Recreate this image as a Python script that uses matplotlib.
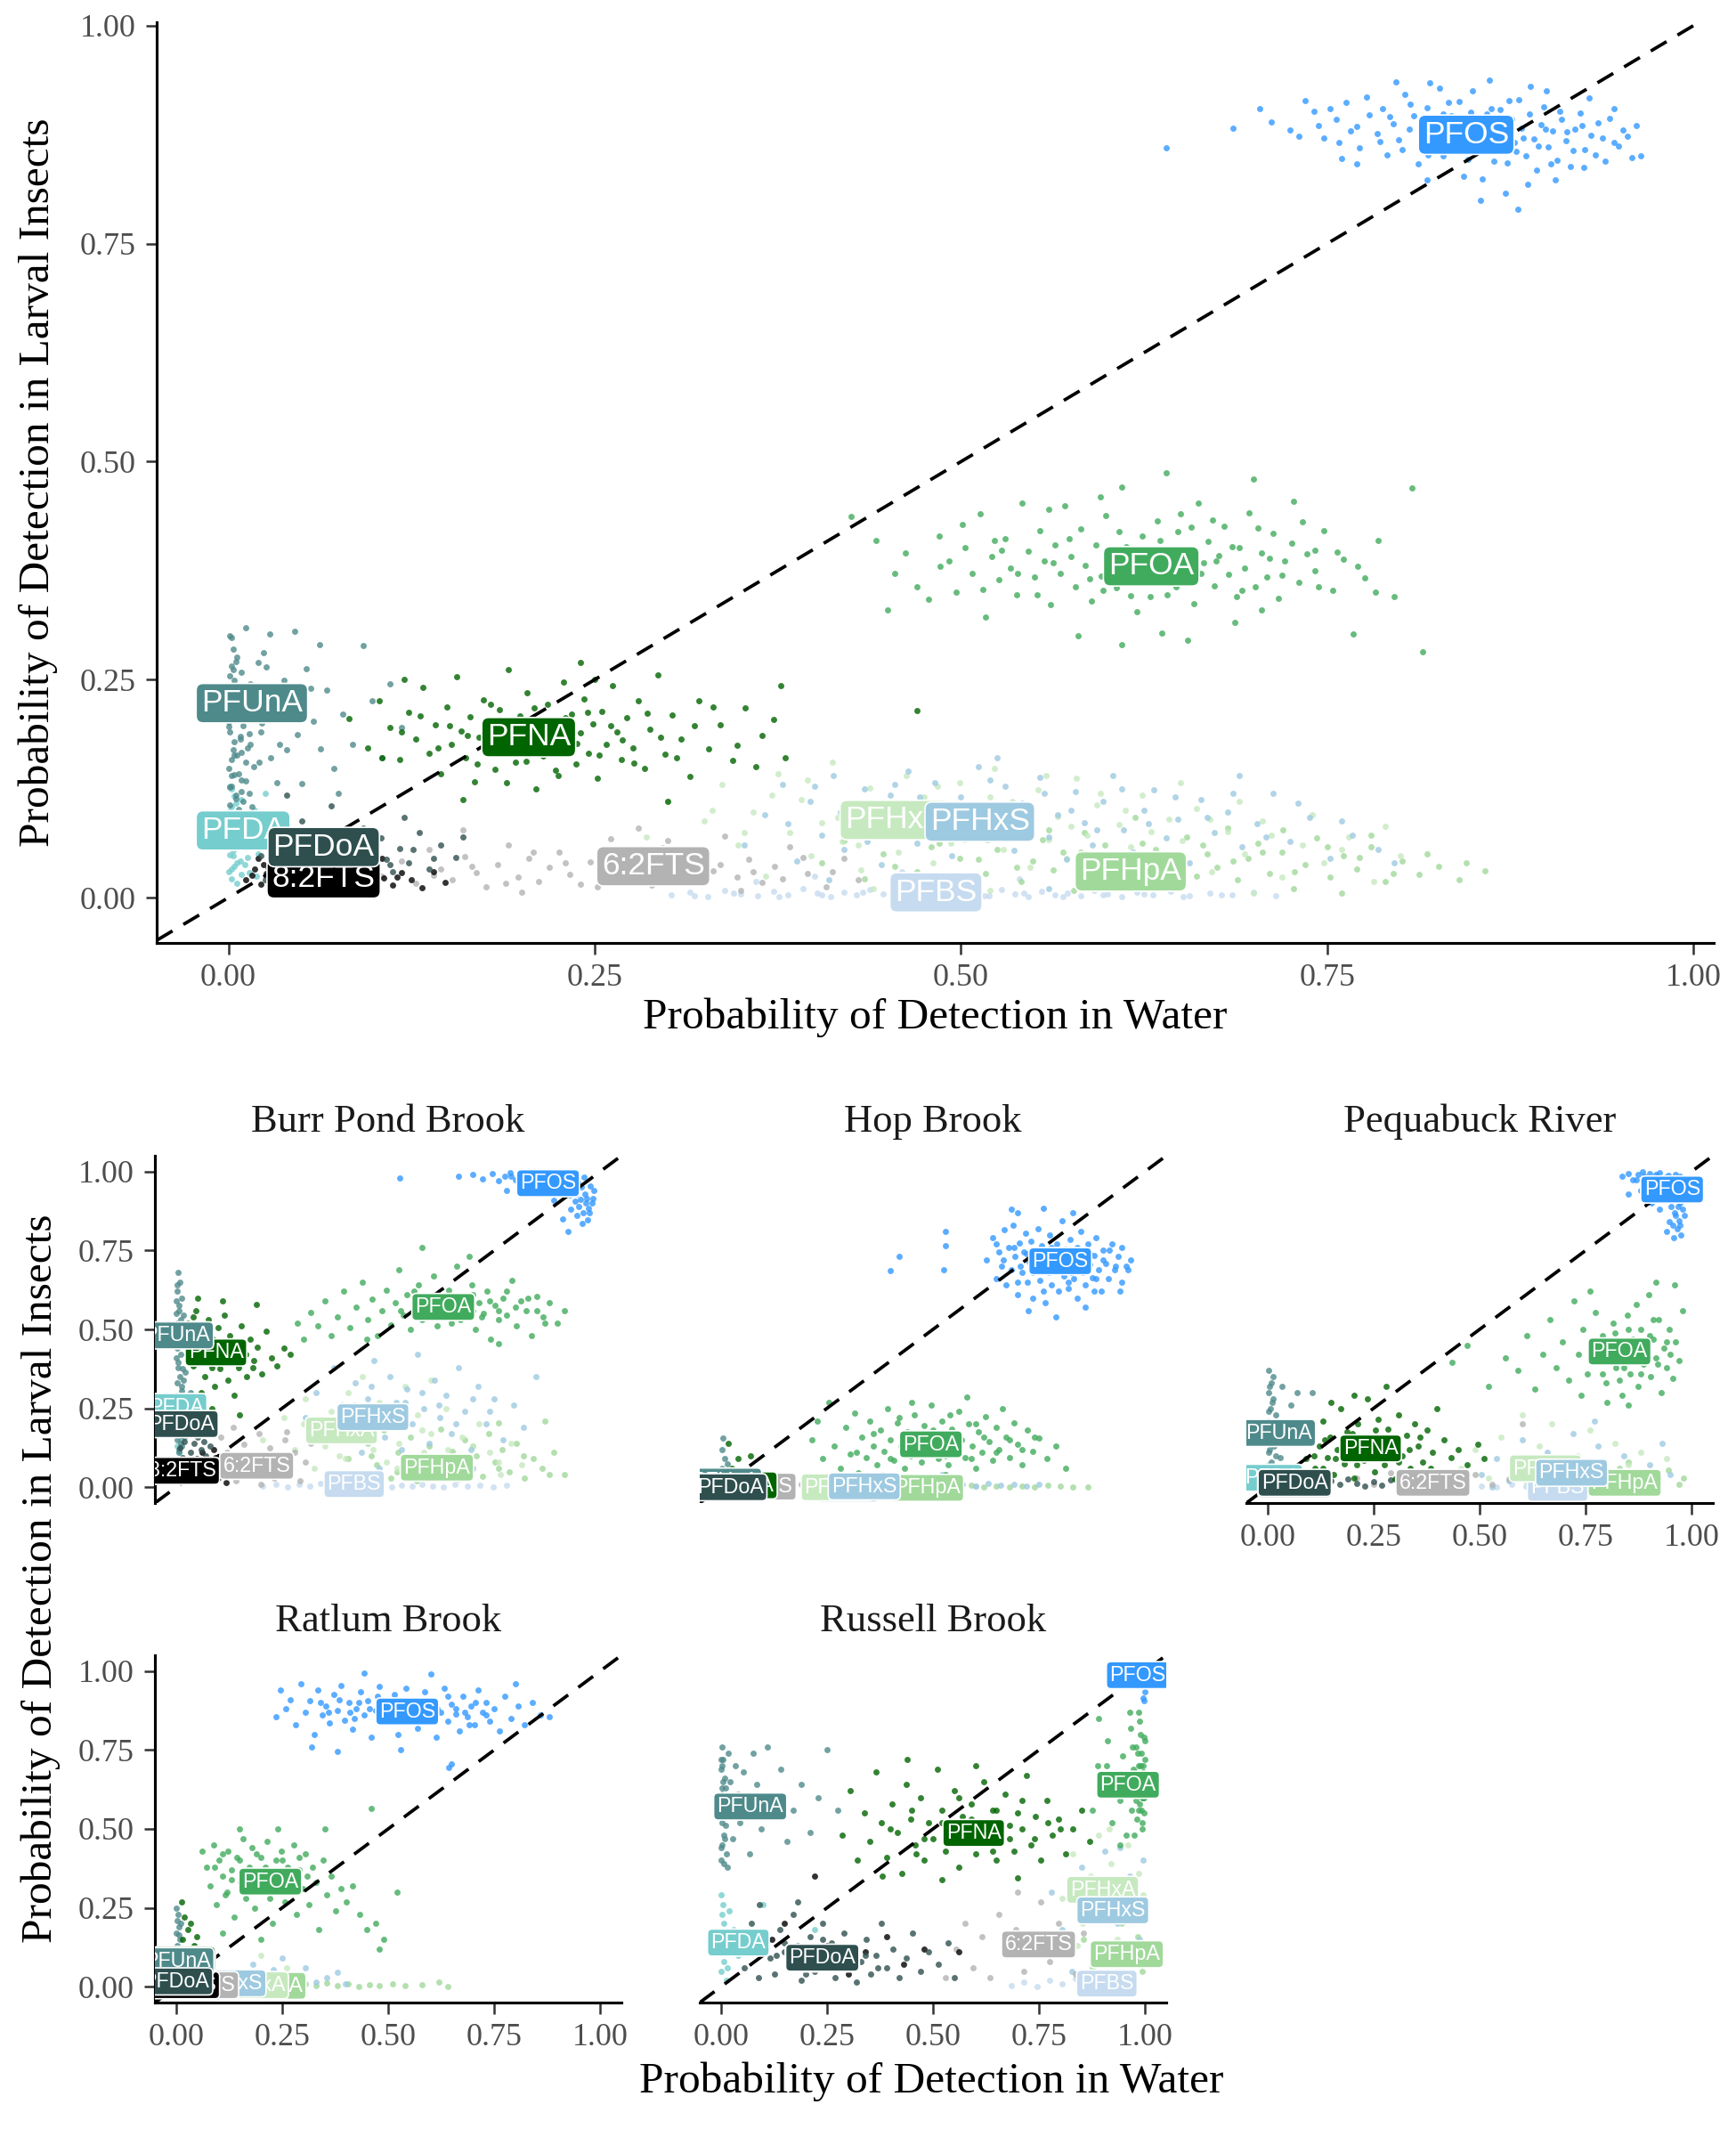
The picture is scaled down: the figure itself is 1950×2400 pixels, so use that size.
import matplotlib
matplotlib.use("Agg")
import matplotlib.pyplot as plt

# ---------------- colours ----------------
compound_names = ["PFOS", "PFOA", "PFNA", "PFUnA", "PFDA", "PFDoA", "8:2FTS",
                  "6:2FTS", "PFHxA", "PFHxS", "PFHpA", "PFBS"]
compound_colors = ["#3399FF", "#41AB5D", "#006400", "#4F8A8B", "#76CDCD", "#2F4F4F",
                   "#000000", "#B3B3B3", "#C7E9C0", "#9ECAE1", "#A1D99B", "#C6DBEF"]
point_order = ["PFBS", "PFHpA", "PFHxA", "PFHxS", "6:2FTS", "PFOA", "PFOS", "PFDA",
               "PFUnA", "8:2FTS", "PFDoA", "PFNA"]
label_order = ["PFOS", "PFOA", "PFBS", "PFHpA", "PFHxA", "PFHxS", "6:2FTS", "PFDA",
               "8:2FTS", "PFNA", "PFUnA", "PFDoA"]
tick_values = [0.0, 0.25, 0.5, 0.75, 1.0]
tick_labels = ["0.00", "0.25", "0.50", "0.75", "1.00"]

# ------------- data (per-mille: water, larval insects) -------------
# ===== overall panel =====
main_pfos = [(712,890),(725,880),(741,902),(748,871),(756,893),(763,912),(770,884),(772,860),(779,898),(784,876),(788,905),(791,852),(795,888),(799,869),(803,921),(806,881),(809,897),(812,842),(815,874),(818,906),(821,862),(824,889),(827,928),(829,851),(832,878),(835,897),(838,866),(840,913),(843,884),(846,847),(848,901),(851,872),(853,890),(856,824),(858,862),(861,938),(863,880),(866,857),(868,904),(871,873),(873,843),(876,893),(878,866),(881,915),(883,882),(886,851),(888,899),(891,870),(893,834),(896,887),(898,907),(901,861),(904,879),(907,846),(910,893),(913,868),(916,839),(919,881),(923,900),(926,858),(930,874),(935,889),(940,845),(946,866),(952,880),(958,849),(964,851),(735,914),(760,848),(855,800),(880,790),(900,925),(820,935),(640,860),(686,882),(704,905),
             (731,873),(744,886),(758,866),(766,879),(777,918),(786,867),(793,896),(801,858),(807,910),(814,884),(819,852),(826,873),(833,912),(837,885),(844,866),(849,925),(854,880),(859,899),(864,845),(869,888),(874,914),(879,856),(884,871),(889,930),(894,862),(899,881),(903,842),(909,902),(914,878),(918,857),(924,886),(929,917),(933,852),(938,871),(943,894),(949,862),(955,873),(961,886),(818,823),(843,827),(887,818),(872,808),(797,936),(752,905),(770,842),(925,838),(906,823),(946,905),(862,905),(829,899)]
main_pfoa = [(425,437),(442,410),(455,372),(462,395),(470,357),(478,342),(485,415),(492,386),(497,350),(503,401),(508,372),(513,440),(517,322),(521,391),(526,365),(530,412),(534,378),(538,347),(542,452),(546,397),(550,368),(554,421),(557,386),(561,336),(564,405),(568,372),(571,449),(575,391),(578,357),(582,423),(585,381),(589,340),(592,404),(596,369),(599,438),(603,390),(606,355),(610,471),(613,402),(617,377),(620,328),(624,415),(627,388),(631,362),(634,432),(638,396),(641,347),(645,381),(648,420),(652,366),(655,398),(659,337),(662,453),(666,384),(669,409),(673,358),(676,392),(680,426),(683,371),(687,316),(690,401),(694,378),(697,441),(701,356),(705,395),(709,368),(713,418),(717,343),(721,386),(726,407),(731,362),(736,394),(742,375),(748,421),(754,352),(761,388),(768,302),(776,367),(785,410),(796,345),(808,470),(815,282),(450,330),(580,300),(640,487),(700,480),(610,290),(655,295),(727,455),
             (486,380),(501,428),(515,353),(528,398),(539,372),(552,347),(563,384),(574,412),(588,366),(597,352),(608,420),(618,398),(629,345),(636,410),(647,357),(657,425),(664,372),(674,386),(685,402),(692,352),(703,424),(711,389),(719,370),(733,431),(744,357),(757,396),(771,380),(783,350),(637,303),(595,460),(672,433),(560,445),(523,410),(705,330),(742,398),(616,346),(688,345),(650,440)]
main_pfna = [(82,205),(95,172),(103,226),(110,195),(117,158),(123,213),(128,182),(133,241),(137,166),(141,198),(145,142),(149,219),(152,176),(156,253),(159,191),(162,160),(165,207),(168,133),(171,184),(174,227),(177,168),(180,199),(182,147),(185,216),(188,178),(191,262),(193,192),(196,155),(199,208),(201,170),(204,235),(207,186),(210,125),(212,201),(215,162),(218,222),(220,180),(223,146),(226,195),(229,247),(231,171),(234,210),(237,153),(240,189),(243,228),(246,166),(249,199),(252,137),(255,214),(258,176),(262,243),(265,190),(268,158),(272,206),(276,172),(280,226),(284,148),(288,193),(293,255),(298,165),(303,209),(309,182),(315,139),(321,226),(328,171),(336,198),(344,157),(353,218),(364,186),(377,243),(380,160),(120,250),(240,270),(300,110),(470,215),(160,112),
             (105,160),(118,190),(131,208),(143,172),(151,197),(163,186),(170,153),(179,222),(187,201),(194,174),(203,156),(209,218),(216,189),(224,169),(230,206),(238,177),(245,212),(253,163),(261,197),(269,181),(277,154),(286,211),(295,184),(306,160),(318,197),(331,219),(347,175),(360,150),(372,204),(190,132),(250,250),(225,140)]
main_pfuna = [(2,298),(5,271),(1,254),(8,240),(3,228),(11,219),(6,206),(0,196),(14,188),(4,179),(9,167),(2,158),(17,150),(7,142),(12,134),(1,127),(5,118),(10,110),(3,262),(15,245),(6,233),(19,214),(0,201),(8,185),(13,172),(4,163),(21,155),(2,140),(9,122),(16,104),(24,281),(27,236),(31,204),(35,176),(22,190),(29,160),(38,249),(42,218),(47,187),(53,263),(58,202),(63,171),(67,238),(72,148),(78,210),(85,176),(92,289),(98,226),(105,160),(118,195),(28,302),(45,305),(50,131),(75,120),(110,245),(33,132),(12,310),(20,270),
              (1,300),(3,285),(6,276),(2,266),(9,258),(4,249),(11,242),(0,236),(7,226),(13,218),(2,211),(5,204),(10,197),(1,190),(8,182),(15,176),(3,170),(6,163),(12,155),(0,148),(4,141),(9,135),(2,128),(14,120),(5,113),(1,106),(7,101),(18,230),(23,200),(26,265),(34,220),(40,170),(56,240),(62,290)]
main_pfda = [(1,128),(4,117),(2,104),(7,96),(0,88),(10,80),(3,72),(6,64),(12,57),(1,49),(8,42),(4,36),(14,29),(2,22),(9,112),(5,91),(16,70),(3,54),(11,38),(0,30),(18,100),(7,82),(22,61),(13,46),(25,120),(30,75),(35,95),(40,52),(6,16),(19,25),
             (2,125),(5,108),(1,99),(8,86),(4,75),(0,66),(10,58),(3,48),(6,40),(2,33),(9,27),(15,90),(20,50),(28,40)]
main_pfdoa = [(22,48),(27,35),(31,62),(35,27),(38,51),(42,41),(45,70),(48,31),(51,55),(54,22),(57,44),(60,36),(63,66),(66,28),(69,50),(72,39),(75,58),(78,25),(81,46),(84,33),(87,61),(90,42),(93,29),(96,52),(100,37),(104,69),(108,44),(112,30),(117,56),(123,40),(130,75),(137,33),(145,60),(155,46),(30,95),(50,88),(70,105),(92,80),(120,92),(40,118),(160,70),(25,20),(65,15),
              (33,40),(44,28),(56,52),(61,30),(68,42),(76,50),(83,24),(91,56),(98,45),(110,38),(126,55),(140,45),(47,62),(73,66)]
main_82fts = [(12,20),(18,33),(22,15),(26,28),(30,41),(34,18),(38,26),(42,36),(46,12),(50,22),(54,31),(58,17),(62,40),(66,25),(70,13),(74,30),(78,21),(82,38),(86,15),(90,27),(95,19),(100,34),(106,23),(112,14),(118,29),(125,20),(132,11),(20,45),(55,48),(80,8),(105,45),(140,30),(148,17),
              (16,26),(28,12),(40,30),(48,38),(60,26),(72,20),(88,32),(98,12),(115,24),(24,38)]
main_62fts = [(105,25),(118,42),(128,16),(137,55),(145,33),(153,21),(161,47),(169,29),(176,12),(184,38),(191,60),(198,24),(205,45),(212,18),(219,35),(226,52),(233,27),(240,15),(247,41),(254,30),(261,67),(268,22),(275,48),(282,33),(289,14),(296,57),(303,26),(310,40),(317,19),(324,50),(331,31),(339,71),(347,24),(355,44),(364,17),(373,36),(383,58),(395,28),(408,12),(420,45),(160,78),(280,80),(200,6),(350,8),
              (140,26),(166,36),(189,16),(208,52),(230,40),(252,12),(271,36),(293,42),(313,29),(336,38),(358,30),(378,22),(392,46),(412,30),(430,20),(300,65)]
main_pfhxa = [(285,70),(300,110),(312,45),(325,88),(337,130),(348,60),(358,98),(367,25),(375,142),(383,75),(391,112),(398,48),(405,86),(412,155),(419,64),(425,103),(432,32),(438,126),(445,78),(451,95),(457,52),(463,140),(469,70),(475,115),(481,40),(487,88),(493,62),(499,132),(505,20),(511,98),(517,74),(523,148),(529,55),(535,110),(541,82),(547,35),(553,124),(560,66),(566,93),(572,45),(579,137),(586,72),(593,106),(600,28),(608,84),(616,58),(624,118),(633,40),(642,90),(651,65),(661,102),(671,30),(682,76),(694,50),(706,88),(719,24),(733,60),(748,40),(765,70),(782,18),(800,48),(440,10),(520,8),(620,12),(700,5),
              (330,100),(352,75),(371,118),(395,135),(416,92),(430,60),(448,108),(466,85),(484,128),(502,66),(520,115),(538,95),(558,140),(575,82),(595,120),(612,100),(630,76),(650,132),(670,90),(690,110),(712,72),(740,95),(760,55),(790,82)]
main_pfhxs = [(352,60),(366,95),(378,130),(388,42),(397,110),(405,72),(413,140),(420,55),(427,100),(434,125),(440,80),(446,38),(452,118),(458,90),(464,145),(470,62),(476,105),(482,132),(488,75),(494,48),(500,115),(506,88),(512,150),(518,66),(524,99),(530,128),(536,54),(542,108),(548,82),(554,138),(560,70),(566,95),(572,44),(578,122),(584,86),(590,60),(597,110),(604,140),(611,78),(618,52),(625,100),(632,124),(640,68),(648,90),(656,40),(664,112),(673,75),(682,98),(692,58),(702,85),(713,120),(725,64),(738,92),(752,45),(767,72),(785,55),(410,20),(480,15),(560,10),(630,18),(525,160),(690,140),
              (382,85),(400,128),(418,98),(436,64),(455,130),(472,115),(490,95),(503,70),(520,135),(539,88),(557,120),(575,100),(593,78),(610,125),(628,85),(646,115),(668,92),(686,120),(708,70),(730,108),(760,88),(796,40)]
main_pfhpa = [(405,40),(420,65),(434,22),(447,50),(459,78),(470,30),(480,58),(490,12),(499,45),(508,72),(517,28),(525,55),(533,88),(541,18),(549,42),(556,66),(563,32),(570,52),(577,8),(584,75),(591,38),(598,60),(605,22),(612,47),(619,92),(626,30),(633,55),(640,15),(647,40),(654,70),(661,25),(668,50),(675,35),(682,80),(689,20),(696,45),(703,62),(711,28),(719,52),(727,10),(735,38),(743,68),(752,24),(761,48),(770,33),(780,58),(790,18),(801,42),(813,27),(826,36),(840,20),(858,31),(780,72),(760,5),(720,78),
              (455,36),(485,62),(512,44),(538,35),(560,78),(582,52),(603,40),(624,62),(645,28),(665,60),(686,42),(706,52),(728,30),(750,58),(772,46),(795,28),(818,50),(845,40)]
main_pfbs = [(302,3),(315,6),(327,1),(339,8),(350,4),(361,2),(372,7),(382,3),(392,10),(402,5),(411,1),(420,6),(429,3),(438,9),(447,4),(456,2),(465,7),(474,5),(483,1),(492,8),(501,3),(510,6),(519,2),(528,9),(537,4),(546,1),(555,7),(564,3),(573,5),(582,2),(591,8),(600,4),(610,1),(620,6),(631,3),(643,7),(656,2),(670,5),(685,3),(700,6),(715,2),(400,25),(460,30),(540,22),(360,18),
             (318,2),(345,5),(376,1),(405,3),(433,6),(461,1),(489,4),(516,2),(543,5),(570,1),(597,3),(625,4),(652,1),(678,3)]
main_labels = {"PFOS": (845,875), "PFOA": (630,380), "PFNA": (205,184), "PFUnA": (16,223),
               "PFDA": (10,77), "PFDoA": (65,58), "8:2FTS": (65,22), "6:2FTS": (290,36),
               "PFHxA": (455,89), "PFHxS": (513,87), "PFHpA": (616,30), "PFBS": (483,6)}

# ===== Burr Pond Brook =====
burr_pfos = [(665,985),(700,990),(722,978),(745,993),(760,970),(775,986),(788,996),(800,975),(812,989),(823,962),(835,980),(846,994),(856,969),(866,985),(875,955),(884,978),(892,992),(900,960),(908,975),(915,940),(922,988),(928,925),(934,966),(940,905),(945,980),(950,890),(955,950),(960,870),(964,930),(968,915),(972,885),(976,955),(980,900),(984,940),(945,860),(930,880),(958,835),(970,848),(912,850),(925,810),(527,979),(780,940),(850,930),(890,910),
             (790,985),(817,972),(838,991),(860,978),(870,996),(880,968),(896,985),(904,975),(918,958),(931,990),(938,945),(948,965),(962,982),(966,900),(974,870),(982,915),(953,912),(942,930)]
burr_pfoa = [(285,520),(300,470),(318,555),(335,510),(350,590),(365,480),(380,540),(395,620),(410,505),(425,570),(440,650),(452,530),(463,595),(474,480),(485,560),(496,625),(506,515),(516,585),(526,690),(535,545),(544,610),(553,500),(562,575),(571,640),(580,530),(589,600),(598,555),(607,670),(616,510),(625,590),(634,545),(643,625),(652,575),(661,700),(670,530),(679,605),(688,560),(697,640),(706,500),(715,585),(724,550),(733,620),(742,470),(751,575),(760,530),(770,600),(780,545),(791,655),(802,510),(813,590),(825,560),(838,480),(851,605),(866,540),(881,585),(898,520),(915,560),(580,760),(690,730),(450,470),(760,455),
             (560,620),(590,560),(620,540),(640,600),(660,550),(680,580),(700,610),(720,540),(740,590),(760,560),(780,620),(800,570),(700,560),(650,520),(610,600),(570,590),(530,560),(830,600),(850,560),(870,520)]
burr_pfna = [(20,470),(28,520),(35,430),(41,385),(47,560),(52,455),(57,410),(62,495),(67,350),(72,440),(77,530),(81,395),(86,470),(90,320),(95,420),(99,505),(104,375),(108,450),(113,545),(117,400),(122,340),(127,480),(132,425),(137,290),(142,460),(148,380),(154,510),(160,415),(167,350),(174,470),(182,400),(191,445),(201,360),(212,495),(224,410),(238,385),(255,440),(270,420),(50,600),(110,590),(190,580),(85,250),(150,230),(60,300),
             (30,480),(45,400),(58,450),(70,410),(84,380),(95,460),(106,420),(120,440),(135,400),(150,450),(165,420),(180,380),(40,540),(75,500)]
burr_pfuna = [(5,680),(8,650),(3,620),(12,600),(6,575),(1,550),(10,530),(4,505),(14,485),(7,460),(2,440),(11,420),(5,395),(16,375),(8,350),(3,330),(12,305),(6,285),(0,260),(9,240),(15,220),(4,195),(10,170),(2,150),(13,130),(7,110),(1,590),(17,545),(9,475),(0,410),(18,340),(11,270),(4,210),(20,160),(6,120),(25,500),(30,430),(22,365),(35,300),
              (3,640),(7,560),(2,520),(9,455),(4,380),(13,320),(1,290),(8,250),(5,180),(11,140)]
burr_pfda = [(2,290),(6,265),(1,240),(9,215),(4,190),(0,170),(11,150),(3,130),(7,110),(13,275),(5,225),(8,160)]
burr_pfdoa = [(5,190),(12,165),(20,145),(8,125),(28,180),(35,110),(15,95),(42,140),(25,75),(50,160),(60,120),(33,60),(70,100),(45,85),(80,130),(90,70),(55,50),(18,200),(65,145),(100,90)]
burr_82fts = [(35,60),(48,90),(55,40),(62,110),(70,25),(78,75),(85,50),(92,95),(100,30),(110,65),(118,15),(40,20),(65,55),(88,120),(105,100)]
burr_62fts = [(105,160),(120,110),(135,190),(148,80),(160,135),(172,50),(184,100),(196,170),(208,70),(220,125),(232,30),(244,90),(256,150),(268,60),(280,110),(292,20),(305,80),(318,140),(140,20),(200,10),(260,175)]
burr_pfhxa = [(205,150),(230,80),(255,220),(280,120),(305,280),(325,60),(345,180),(365,240),(385,100),(405,300),(420,150),(435,40),(450,210),(465,120),(480,270),(495,80),(510,190),(525,140),(540,320),(555,60),(570,230),(585,110),(600,170),(618,30),(636,250),(655,90),(675,160),(695,50),(715,200),(740,110),(765,40),(790,140),(815,70),(440,350),(600,340),
              (300,200),(350,130),(400,90),(460,170),(520,60),(580,180),(640,120),(700,130),(760,80)]
burr_pfhxs = [(305,220),(330,300),(352,150),(372,380),(390,260),(407,190),(423,330),(438,110),(452,280),(466,400),(479,230),(492,160),(505,350),(518,270),(531,120),(544,310),(557,200),(570,420),(583,250),(596,140),(609,340),(622,220),(636,290),(650,170),(665,380),(680,240),(696,120),(712,320),(730,200),(750,280),(770,150),(795,260),(820,190),(848,350),(560,70),(480,60),(700,60),
              (420,260),(460,320),(500,230),(540,270),(580,300),(620,260),(660,200),(700,280),(740,240)]
burr_pfhpa = [(405,90),(430,40),(452,140),(472,70),(490,180),(507,30),(523,110),(538,60),(553,160),(568,20),(582,95),(596,130),(610,45),(624,185),(638,75),(652,115),(666,25),(680,150),(694,60),(708,100),(722,35),(737,170),(752,80),(768,120),(785,50),(803,140),(822,30),(842,90),(864,60),(890,110),(915,40),(870,210),(760,205),
              (460,100),(520,50),(580,80),(640,40),(700,130),(760,60),(820,100),(880,40)]
burr_pfbs = [(205,5),(235,10),(262,2),(290,8),(316,4),(340,12),(364,3),(388,7),(412,1),(436,9),(460,4),(484,11),(508,2),(532,6),(556,3),(580,10),(604,5),(630,1),(658,8),(686,3),(716,6),(748,2),(780,7)]
burr_labels = {"PFOS": (877,963), "PFOA": (630,571), "PFNA": (94,427), "PFUnA": (2,481),
               "PFDA": (0,254), "PFDoA": (13,200), "8:2FTS": (15,52), "6:2FTS": (190,68),
               "PFHxA": (390,180), "PFHxS": (464,222), "PFHpA": (615,62), "PFBS": (420,10)}

# ===== Hop Brook =====
hop_pfos = [(625,720),(640,790),(648,660),(655,745),(662,700),(668,815),(673,640),(679,760),(684,690),(689,830),(694,730),(699,610),(704,775),(709,680),(714,745),(718,805),(723,650),(727,715),(731,780),(736,600),(740,740),(744,690),(748,820),(752,655),(756,765),(760,710),(764,585),(768,750),(772,680),(776,800),(780,640),(784,730),(788,690),(792,770),(796,620),(800,715),(804,845),(808,670),(812,755),(816,700),(820,630),(824,785),(828,725),(832,660),(836,750),(840,600),(844,700),(848,810),(852,680),(856,740),(860,640),(865,770),(870,705),(875,665),(880,735),(885,790),(890,690),(896,620),(902,750),(908,710),(914,660),(921,770),(928,690),(936,730),(945,650),(955,700),(965,720),(700,870),(760,885),(830,870),(725,560),(790,540),(860,570),(420,730),(400,686),(530,810),(530,765),(525,690),(685,880),
            (650,770),(665,720),(690,760),(705,700),(720,740),(735,680),(750,720),(765,690),(780,760),(795,710),(810,730),(825,680),(840,760),(855,710),(870,740),(885,660),(900,720),(915,750),(930,700),(945,760),(960,690),(700,650),(760,620),(820,650),(880,620),(940,620)]
hop_pfoa = [(215,150),(228,210),(240,90),(255,270),(268,130),(282,60),(295,190),(305,105),(315,235),(324,45),(333,160),(342,95),(351,210),(360,130),(368,70),(376,180),(384,115),(392,250),(400,150),(408,85),(416,205),(424,130),(432,60),(440,175),(448,100),(456,230),(464,145),(472,80),(480,195),(488,125),(496,260),(504,160),(512,90),(520,210),(528,135),(536,70),(544,185),(552,115),(560,240),(568,150),(576,95),(584,200),(592,130),(600,60),(608,175),(616,110),(624,225),(632,145),(640,85),(648,190),(656,120),(664,250),(672,160),(680,95),(690,205),(700,135),(710,70),(722,180),(735,115),(750,155),(768,90),(790,130),(812,60),(580,285),(450,270),(530,40),(380,40),
            (320,110),(360,170),(400,90),(440,140),(470,115),(500,180),(530,100),(560,150),(590,90),(620,160),(650,110),(680,150),(710,120),(740,160),(420,220),(540,230),(600,200)]
hop_pfna = [(18,140),(40,90),(25,60),(55,40),(10,30),(70,100)]
hop_pfuna = [(5,157),(3,120),(8,90),(2,60),(12,40),(6,25),(15,75),(1,10)]
hop_pfda = [(3,50),(6,30),(2,15)]
hop_pfdoa = [(30,20),(50,10),(65,30),(20,5),(80,15)]
hop_82fts = [(25,8),(45,3),(60,12)]
hop_62fts = [(100,15),(130,5),(160,20),(190,8)]
hop_pfhxa = [(250,10),(300,25),(350,5),(400,15),(450,30),(500,8)]
hop_pfhxs = [(450,12),(480,8),(510,15),(540,6),(570,10),(600,4),(630,12),(660,7),(690,10),(720,5),(750,9),(520,40)]
hop_pfhpa = [(560,3),(590,6),(620,2),(650,5),(680,1),(710,4),(740,2),(770,6),(800,3),(830,1),(866,2)]
hop_pfbs = [(400,2),(430,5),(470,1),(500,4),(530,2),(560,1),(600,3)]
hop_labels = {"PFOS": (800,716), "PFOA": (495,136), "PFNA": (60,6), "PFUnA": (10,18),
              "PFDA": (10,5), "PFDoA": (22,0), "8:2FTS": (30,2), "6:2FTS": (90,2),
              "PFHxA": (274,0), "PFHxS": (338,3), "PFHpA": (486,-2), "PFBS": (300,-5)}

# ===== Pequabuck River =====
peq_pfos = [(835,985),(850,995),(862,975),(874,990),(884,998),(893,980),(902,993),(910,970),(918,986),(925,996),(932,962),(939,983),(945,950),(951,975),(956,935),(961,990),(965,920),(969,960),(972,900),(975,940),(978,880),(981,975),(983,860),(986,925),(970,845),(960,870),(952,890),(965,820),(948,840),(975,800),(958,790),(940,810),(905,900),(925,880),(880,940),(850,930),(990,960),
            (870,975),(888,985),(899,968),(915,992),(928,975),(944,988),(957,970),(963,948),(972,985),(977,915),(968,890),(962,860),(955,830),(973,830)]
peq_pfoa = [(435,395),(470,450),(520,320),(560,410),(590,370),(612,480),(630,310),(648,420),(665,530),(680,380),(695,460),(710,340),(722,590),(733,420),(744,500),(754,360),(764,445),(773,555),(782,400),(790,480),(798,330),(806,430),(814,520),(821,380),(828,460),(835,290),(842,410),(849,545),(855,360),(862,470),(868,420),(874,320),(880,500),(886,390),(892,445),(898,610),(904,350),(910,470),(916,410),(922,530),(928,300),(934,440),(941,380),(948,500),(955,345),(962,460),(970,400),(978,560),(960,640),(915,650),(870,580),(800,270),(850,260),(740,290),(760,620),
            (760,400),(780,460),(800,420),(820,490),(840,380),(860,440),(880,410),(900,480),(920,390),(940,460),(950,420),(790,360),(850,500),(910,530),(830,340),(880,360)]
peq_pfna = [(75,140),(90,90),(102,180),(112,60),(122,130),(131,210),(140,95),(148,160),(156,40),(164,120),(172,250),(180,75),(188,175),(196,110),(204,30),(212,200),(220,140),(228,85),(236,280),(244,160),(252,50),(260,215),(268,120),(276,70),(284,185),(292,140),(300,25),(309,230),(318,100),(327,165),(336,60),(346,200),(356,130),(366,80),(377,180),(389,110),(402,45),(416,150),(432,95),(450,120),(470,70),(495,135),(510,90),(280,320),(150,270),(400,250),(205,290),
            (110,100),(135,150),(160,90),(185,130),(210,70),(235,120),(260,90),(285,150),(310,80),(335,120),(360,160),(385,60),(200,170),(255,180),(130,60)]
peq_pfuna = [(3,370),(8,330),(2,300),(14,280),(6,250),(20,230),(1,210),(11,190),(25,170),(5,150),(16,130),(3,110),(30,95),(9,80),(22,60),(2,40),(13,25),(35,320),(45,200),(55,260),(70,300),(105,300),(12,350),
             (4,320),(10,270),(2,240),(7,200),(15,160),(4,120),(20,100)]
peq_pfda = [(2,30),(5,15),(1,50),(8,5),(3,70)]
peq_pfdoa = [(150,20),(170,8),(190,25),(210,12),(230,3),(250,18),(270,6),(290,22),(120,10),(320,5)]
peq_82fts = [(60,5),(90,15),(110,2),(140,10)]
peq_62fts = [(210,30),(250,10),(290,45),(330,20),(370,5),(410,35),(450,15),(490,40),(530,8),(570,25),(600,200)]
peq_pfhxa = [(455,60),(490,120),(520,30),(550,160),(580,80),(610,20),(640,130),(670,200),(700,50),(730,100),(760,180),(790,40),(820,140),(850,70),(880,110),(910,30),(940,90),(600,230),(680,10)]
peq_pfhxs = [(505,40),(540,90),(570,20),(600,150),(630,60),(660,110),(690,30),(720,170),(750,80),(780,130),(810,50),(840,100),(870,20),(900,70),(930,140),(950,40),(770,210),(530,0)]
peq_pfhpa = [(705,20),(740,50),(770,10),(800,35),(830,60),(860,15),(890,40),(920,25),(945,55),(970,10),(980,30),(850,80)]
peq_pfbs = [(505,5),(540,2),(575,8),(610,3),(645,6),(680,1),(715,7),(750,3),(785,5),(820,2)]
peq_labels = {"PFOS": (954,943), "PFOA": (830,430), "PFNA": (243,123), "PFUnA": (27,172),
              "PFDA": (10,30), "PFDoA": (64,14), "8:2FTS": (64,10), "6:2FTS": (390,14),
              "PFHxA": (655,60), "PFHxS": (717,46), "PFHpA": (842,14), "PFBS": (684,-2)}

# ===== Ratlum Brook =====
rat_pfos = [(235,855),(245,940),(258,880),(270,910),(282,830),(295,960),(305,870),(315,905),(325,800),(335,940),(344,860),(353,890),(362,835),(371,925),(380,875),(389,955),(398,845),(407,900),(416,815),(425,880),(434,935),(443,860),(452,905),(461,790),(470,875),(479,950),(488,840),(497,895),(506,860),(515,925),(524,800),(533,880),(542,945),(551,850),(560,905),(569,820),(578,880),(587,935),(596,860),(605,900),(614,790),(623,870),(632,945),(641,840),(650,895),(659,865),(668,810),(677,920),(686,855),(695,890),(704,830),(713,940),(722,870),(731,900),(740,840),(750,880),(762,810),(775,920),(790,850),(806,890),(822,830),(840,900),(860,860),(880,855),(320,760),(380,745),(530,750),(443,995),(643,694),(650,705),(800,960),(600,990),
            (340,900),(360,870),(385,910),(410,870),(430,900),(455,880),(475,920),(500,880),(520,860),(545,900),(565,870),(590,900),(615,880),(640,920),(660,880),(680,870),(705,900),(730,860),(420,850),(560,840),(690,830)]
rat_pfoa = [(62,430),(72,380),(80,320),(88,450),(95,260),(102,400),(109,350),(116,290),(123,430),(130,370),(137,220),(144,410),(151,330),(158,470),(165,280),(172,380),(179,440),(186,250),(193,350),(200,410),(207,300),(214,460),(221,360),(228,200),(235,400),(242,320),(249,430),(256,270),(263,380),(270,340),(277,450),(284,230),(291,370),(298,310),(305,420),(313,260),(321,380),(329,330),(337,180),(346,400),(355,290),(365,350),(376,240),(388,310),(401,270),(416,320),(432,230),(450,180),(470,200),(490,150),(520,300),(240,500),(150,500),(350,500),(460,565),(480,118),(200,150),(110,170),
            (90,380),(110,420),(130,340),(150,400),(170,350),(190,420),(210,380),(230,340),(250,400),(270,370),(290,410),(310,350),(160,310),(220,280),(280,300),(120,300)]
rat_pfna = [(12,270),(20,220),(28,180),(15,150),(35,200),(42,130),(25,110),(48,160)]
rat_pfuna = [(1,250),(4,230),(2,210),(6,190),(0,170),(8,150),(3,130),(5,110),(10,200),(1,95),(7,165)]
rat_pfda = [(2,80),(4,50),(1,30)]
rat_pfdoa = [(5,40),(10,20),(3,60),(15,10)]
rat_82fts = [(8,10),(15,5)]
rat_62fts = [(60,5),(90,15)]
rat_pfhxa = [(200,100),(230,30),(260,60),(180,20)]
rat_pfhxs = [(155,40),(180,70),(205,20),(230,55),(255,10),(280,35),(305,60),(330,15),(355,30),(380,45),(400,8),(250,90)]
rat_pfhpa = [(305,8),(330,3),(355,12),(380,5),(405,10),(430,2),(455,7),(480,4),(510,9),(540,3),(580,6),(620,15),(640,2)]
rat_pfbs = [(150,3),(200,6),(250,1),(300,4)]
rat_labels = {"PFOS": (545,872), "PFOA": (222,333), "PFNA": (20,85), "PFUnA": (3,81),
              "PFDA": (10,20), "PFDoA": (0,17), "8:2FTS": (15,5), "6:2FTS": (60,5),
              "PFHxA": (180,5), "PFHxS": (127,11), "PFHpA": (220,3), "PFBS": (150,0)}

# ===== Russell Brook =====
rus_pfos = [(1000,935),(998,905),(995,915),(1000,960),(990,990)]
rus_pfoa = [(875,560),(888,700),(900,620),(912,780),(922,520),(932,660),(940,590),(948,730),(955,480),(960,640),(965,820),(969,560),(972,690),(975,610),(978,760),(980,530),(982,650),(984,700),(986,580),(988,840),(990,620),(992,740),(993,500),(995,680),(996,600),(997,790),(998,550),(999,660),(1000,720),(985,870),(975,480),(963,870),(910,700),(890,850),(940,450),(970,760),(994,520),(981,610),
            (985,560),(990,700),(995,640),(998,600),(999,780),(992,560),(987,660),(983,740),(979,590),(996,700),(1000,640),(989,800),(976,680),(993,600)]
rus_pfna = [(285,480),(305,620),(322,400),(338,550),(352,460),(366,680),(379,520),(391,410),(403,580),(415,490),(426,360),(437,640),(448,530),(459,450),(470,600),(480,400),(490,520),(500,470),(510,690),(520,560),(530,430),(540,500),(550,620),(560,380),(570,540),(580,470),(590,580),(600,420),(610,510),(620,650),(630,460),(640,560),(650,400),(660,520),(670,610),(680,470),(690,430),(700,550),(710,500),(720,670),(730,450),(742,540),(755,400),(768,590),(782,480),(796,530),(812,420),(830,500),(850,560),(870,460),(440,720),(600,700),(520,340),(700,345),(380,350),
            (400,500),(450,560),(480,470),(520,520),(560,480),(590,530),(620,470),(650,560),(680,510),(710,590),(740,470),(770,520),(800,500),(560,600),(640,430),(460,420)]
rus_pfuna = [(2,760),(5,720),(1,690),(8,660),(3,630),(12,600),(4,570),(0,540),(10,510),(6,480),(2,450),(14,420),(7,390),(18,740),(22,650),(25,560),(28,470),(35,700),(40,610),(45,520),(52,680),(60,580),(68,420),(75,740),(85,640),(95,500),(110,760),(125,600),(140,690),(155,460),(170,560),(190,640),(210,490),(230,600),(250,750),(275,560),(1,400),(16,380),
             (1,720),(4,650),(2,610),(6,560),(3,520),(8,470),(1,440),(5,600),(3,700),(10,630)]
rus_pfda = [(1,290),(4,260),(2,230),(7,200),(0,170),(10,140),(3,110),(6,80),(1,50),(12,20),(20,240),(30,180),(40,100),(15,60),(25,130),(100,260),(220,180)]
rus_pfdoa = [(35,120),(55,60),(72,200),(88,30),(102,150),(115,90),(127,40),(138,180),(149,110),(160,60),(170,230),(180,130),(190,20),(200,90),(210,160),(220,50),(230,110),(240,200),(250,70),(260,140),(270,30),(280,100),(290,170),(300,60),(310,120),(320,15),(331,80),(342,150),(354,40),(366,100),(378,200),(391,60),(405,120),(420,30),(436,90),(452,170),(470,50),(490,110),(512,70),(535,140),(550,30),(180,270),(90,260),
             (130,100),(160,80),(190,120),(220,90),(250,100),(280,60),(310,80),(340,100),(370,60),(200,40),(240,150),(150,140)]
rus_82fts = [(60,120),(120,150),(180,80),(220,350),(250,130),(300,40),(340,110),(390,160),(430,70),(480,120),(560,110),(150,200)]
rus_62fts = [(555,120),(575,200),(595,60),(615,160),(635,30),(655,230),(675,100),(695,180),(715,50),(735,140),(755,270),(775,80),(795,200),(815,120),(835,40),(855,170),(700,300),(530,30)]
rus_pfhxa = [(805,280),(830,420),(852,200),(872,350),(890,480),(905,260),(920,390),(935,150),(948,320),(960,450),(972,230),(984,360),(995,290),(840,130),(915,500)]
rus_pfhxs = [(755,100),(780,300),(805,180),(828,50),(850,380),(870,240),(888,120),(905,430),(920,300),(935,200),(950,80),(963,350),(975,250),(987,150),(996,400),(860,20),(940,440)]
rus_pfhpa = [(855,150),(875,60),(895,250),(912,110),(928,30),(944,200),(958,90),(970,280),(982,160),(993,50),(999,220),(900,10)]
rus_pfbs = [(685,5),(715,15),(745,2),(775,20),(805,8),(835,25),(865,3),(895,12),(925,6),(950,18)]
rus_labels = {"PFOS": (983,987), "PFOA": (960,640), "PFNA": (596,487), "PFUnA": (69,571),
              "PFDA": (41,140), "PFDoA": (239,92), "8:2FTS": (239,90), "6:2FTS": (749,134),
              "PFHxA": (900,307), "PFHxS": (924,242), "PFHpA": (957,103), "PFBS": (910,10)}

facet_titles = ["Burr Pond Brook", "Hop Brook", "Pequabuck River", "Ratlum Brook", "Russell Brook"]

# ---------------- assemble ----------------
color_of = dict(zip(compound_names, compound_colors))


def cloud_map(pfos, pfoa, pfna, pfuna, pfda, pfdoa, f82, f62, pfhxa, pfhxs, pfhpa, pfbs):
    return dict(zip(compound_names, [pfos, pfoa, pfna, pfuna, pfda, pfdoa, f82, f62,
                                     pfhxa, pfhxs, pfhpa, pfbs]))


main_clouds = cloud_map(main_pfos, main_pfoa, main_pfna, main_pfuna, main_pfda, main_pfdoa,
                        main_82fts, main_62fts, main_pfhxa, main_pfhxs, main_pfhpa, main_pfbs)
facet_clouds = [
    cloud_map(burr_pfos, burr_pfoa, burr_pfna, burr_pfuna, burr_pfda, burr_pfdoa,
              burr_82fts, burr_62fts, burr_pfhxa, burr_pfhxs, burr_pfhpa, burr_pfbs),
    cloud_map(hop_pfos, hop_pfoa, hop_pfna, hop_pfuna, hop_pfda, hop_pfdoa,
              hop_82fts, hop_62fts, hop_pfhxa, hop_pfhxs, hop_pfhpa, hop_pfbs),
    cloud_map(peq_pfos, peq_pfoa, peq_pfna, peq_pfuna, peq_pfda, peq_pfdoa,
              peq_82fts, peq_62fts, peq_pfhxa, peq_pfhxs, peq_pfhpa, peq_pfbs),
    cloud_map(rat_pfos, rat_pfoa, rat_pfna, rat_pfuna, rat_pfda, rat_pfdoa,
              rat_82fts, rat_62fts, rat_pfhxa, rat_pfhxs, rat_pfhpa, rat_pfbs),
    cloud_map(rus_pfos, rus_pfoa, rus_pfna, rus_pfuna, rus_pfda, rus_pfdoa,
              rus_82fts, rus_62fts, rus_pfhxa, rus_pfhxs, rus_pfhpa, rus_pfbs),
]
facet_labels = [burr_labels, hop_labels, peq_labels, rat_labels, rus_labels]

SERIF = ["Liberation Serif", "DejaVu Serif"]
SANS = ["Liberation Sans", "DejaVu Sans"]
TICK_FS = 17.3
TITLE_FS = 23.7
STRIP_FS = 21.4
AX_LW = 1.5

W, H = 1950, 2400
fig = plt.figure(figsize=(W / 150, H / 150), dpi=150)


def px_axes(left, top, right, bottom):
    return fig.add_axes([left / W, 1 - bottom / H, (right - left) / W, (bottom - top) / H])


def style(ax, xlim, ylim, show_x, show_y):
    ax.set_xlim(*xlim)
    ax.set_ylim(*ylim)
    ax.patch.set_alpha(0)
    for s in ("top", "right"):
        ax.spines[s].set_visible(False)
    ax.spines["left"].set_visible(show_y)
    ax.spines["bottom"].set_visible(show_x)
    for s in ("left", "bottom"):
        ax.spines[s].set_linewidth(AX_LW)
        ax.spines[s].set_color("black")
    ax.set_xticks(tick_values)
    ax.set_xticklabels(tick_labels, fontfamily=SERIF)
    ax.set_yticks(tick_values)
    ax.set_yticklabels(tick_labels, fontfamily=SERIF)
    ax.tick_params(axis="x", bottom=show_x, labelbottom=show_x, length=6, width=1.2,
                   color="#333333", labelcolor="#4D4D4D", labelsize=TICK_FS, pad=5)
    ax.tick_params(axis="y", left=show_y, labelleft=show_y, length=6, width=1.2,
                   color="#333333", labelcolor="#4D4D4D", labelsize=TICK_FS, pad=5)


def draw_panel(ax, clouds, labels, label_fs, dot_size):
    for name in point_order:
        pts = clouds[name]
        if not pts:
            continue
        xs = [p[0] / 1000 for p in pts]
        ys = [p[1] / 1000 for p in pts]
        ax.scatter(xs, ys, s=dot_size, color=color_of[name], alpha=0.8,
                   linewidths=0, zorder=2)
    ax.axline((0, 0), (1, 1), color="black", lw=1.8, ls=(0, (5.5, 3.8)), zorder=3)
    for k, name in enumerate(label_order):
        lx, ly = labels[name]
        ax.text(lx / 1000, ly / 1000, name, ha="center", va="center", fontsize=label_fs,
                color="white", fontfamily=SANS, clip_on=True, zorder=10 + k,
                bbox=dict(boxstyle="round,pad=0.16,rounding_size=0.22",
                          fc=color_of[name], ec="white", lw=0.8))


# ---------------- overall panel ----------------
ax_main = px_axes(176, 25, 1925, 1059)
style(ax_main, (-0.049, 1.014), (-0.052, 1.004), True, True)
draw_panel(ax_main, main_clouds, main_labels, 17.0, 11)
fig.text(1050 / W, 1 - 1143 / H, "Probability of Detection in Water", ha="center",
         va="center", fontsize=TITLE_FS, fontfamily=SERIF)
fig.text(43 / W, 1 - 542 / H, "Probability of Detection in Larval Insects", ha="center",
         va="center", rotation=90, fontsize=TITLE_FS, fontfamily=SERIF)

# ---------------- facets ----------------
col_left = [174, 786, 1400]
row_top = [1298, 1859]
PW, PH = 524, 390
facet_pos = [(0, 0), (0, 1), (0, 2), (1, 0), (1, 1)]
show_x_axis = [False, False, True, True, True]
show_y_axis = [True, False, False, True, False]
for i, (r, c) in enumerate(facet_pos):
    ax = px_axes(col_left[c], row_top[r], col_left[c] + PW, row_top[r] + PH)
    style(ax, (-0.05, 1.05), (-0.05, 1.05), show_x_axis[i], show_y_axis[i])
    draw_panel(ax, facet_clouds[i], facet_labels[i], 11.2, 11)
    ax.text(0.5, 1 + 38 / PH, facet_titles[i], transform=ax.transAxes, ha="center",
            va="center", fontsize=STRIP_FS, fontfamily=SERIF, color="#1A1A1A")

fig.text(1046 / W, 1 - 2338 / H, "Probability of Detection in Water", ha="center",
         va="center", fontsize=TITLE_FS, fontfamily=SERIF)
fig.text(46 / W, 1 - 1773 / H, "Probability of Detection in Larval Insects", ha="center",
         va="center", rotation=90, fontsize=TITLE_FS, fontfamily=SERIF)

fig.savefig("out.png", dpi=150, facecolor="white")
